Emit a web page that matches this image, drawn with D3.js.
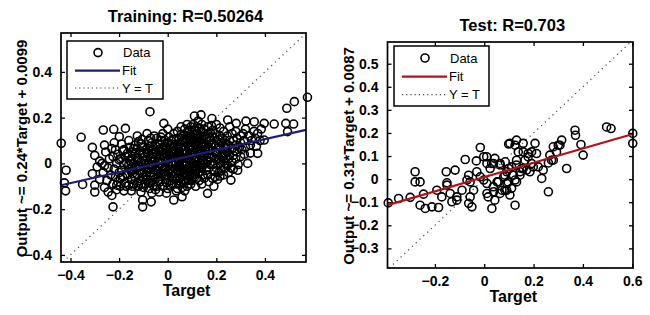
<!DOCTYPE html>
<html>
<head>
<meta charset="utf-8">
<script src="https://cdn.jsdelivr.net/npm/d3@7"></script>
<style>
  body { margin: 0; background: #fff; }
  svg { display: block; font-family: "Liberation Sans", Arial, sans-serif; }
</style>
</head>
<body>
<div id="chart"></div>
<script>
// ---- data: [target, output] ----
const trainTitle = "Training: R=0.50264";
const trainYLabel = "Output ~= 0.24*Target + 0.0099";
const trainFit = [0.24, 0.0099];
const trainXTicks = [-0.4, -0.2, 0, 0.2, 0.4];
const trainYTicks = [-0.4, -0.2, 0, 0.2, 0.4];
const trainPoints = [
  [-0.438, 0.088], [-0.418, -0.03], [-0.425, -0.085], [-0.42, -0.12], [-0.356, 0.114], [-0.35, -0.092],
  [-0.31, 0.07], [-0.30, 0.035], [-0.29, -0.015], [-0.31, -0.045], [-0.30, -0.095], [-0.30, -0.125], [-0.28, -0.07], [-0.28, 0.01],
  [-0.265, 0.146], [-0.26, 0.08], [-0.255, 0.05], [-0.26, -0.01], [-0.265, -0.04], [-0.25, -0.075], [-0.26, -0.105], [-0.245, -0.125], [-0.24, 0.02], [-0.235, -0.05],
  [-0.225, -0.19], [-0.222, 0.149], [-0.22, 0.09], [-0.215, 0.06], [-0.225, 0.03], [-0.21, 0.0], [-0.22, -0.025], [-0.215, -0.06], [-0.225, -0.09], [-0.21, -0.115], [-0.23, -0.14], [-0.205, 0.04], [-0.2, -0.04], [-0.205, -0.08],
  [-0.199, 0.117], [-0.19, 0.085], [-0.185, 0.055], [-0.195, 0.02], [-0.18, -0.005], [-0.19, -0.03], [-0.185, -0.06], [-0.195, -0.1], [-0.18, -0.12], [-0.175, 0.03], [-0.17, -0.045], [-0.175, -0.085], [-0.174, 0.153],
  [-0.16, 0.1], [-0.155, 0.07], [-0.165, 0.045], [-0.15, 0.02], [-0.16, -0.005], [-0.155, -0.025], [-0.165, -0.05], [-0.15, -0.07], [-0.16, -0.095], [-0.15, -0.12], [-0.145, -0.045], [-0.14, 0.0], [-0.145, 0.05], [-0.14, -0.09], [-0.135, 0.08],
  [-0.125, 0.12], [-0.12, 0.095], [-0.13, 0.06], [-0.115, 0.04], [-0.125, 0.015], [-0.12, -0.01], [-0.11, -0.03], [-0.125, -0.05], [-0.115, -0.075], [-0.12, -0.1], [-0.11, -0.125], [-0.103, -0.16], [-0.103, -0.19], [-0.105, 0.07], [-0.1, 0.0], [-0.1, -0.06], [-0.095, 0.03], [-0.095, -0.09], [-0.105, 0.105],
  [-0.073, 0.226], [-0.085, 0.13], [-0.08, 0.1], [-0.075, 0.075], [-0.085, 0.05], [-0.07, 0.025], [-0.08, 0.005], [-0.075, -0.02], [-0.085, -0.04], [-0.07, -0.06], [-0.08, -0.085], [-0.075, -0.11], [-0.068, -0.168], [-0.065, -0.13], [-0.065, 0.09], [-0.06, 0.04], [-0.06, -0.01], [-0.055, -0.05], [-0.06, -0.095], [-0.055, 0.12],
  [-0.045, 0.11], [-0.04, 0.085], [-0.035, 0.06], [-0.045, 0.035], [-0.04, 0.01], [-0.035, -0.015], [-0.045, -0.035], [-0.04, -0.06], [-0.03, -0.08], [-0.045, -0.1], [-0.035, -0.125], [-0.025, 0.1], [-0.025, 0.05], [-0.025, 0.0], [-0.02, -0.045], [-0.02, -0.1], [-0.016, 0.175], [-0.02, 0.13], [-0.015, 0.075], [-0.015, 0.025], [-0.01, -0.02], [-0.01, -0.07], [-0.005, -0.13],
  [0.0, 0.15], [0.005, 0.115], [0.0, 0.09], [0.005, 0.065], [-0.005, 0.04], [0.0, 0.015], [0.005, -0.01], [0.0, -0.035], [0.005, -0.06], [-0.005, -0.085], [0.0, -0.11], [0.015, 0.1], [0.015, 0.05], [0.02, 0.0], [0.015, -0.045], [0.02, -0.09], [0.025, -0.16], [0.025, 0.13], [0.025, 0.075], [0.03, 0.025], [0.03, -0.025], [0.03, -0.07], [0.035, -0.12],
  [0.04, 0.14], [0.045, 0.11], [0.04, 0.085], [0.045, 0.06], [0.04, 0.035], [0.045, 0.01], [0.04, -0.015], [0.045, -0.04], [0.04, -0.065], [0.045, -0.09], [0.04, -0.11], [0.059, -0.146], [0.055, 0.16], [0.055, 0.125], [0.06, 0.095], [0.055, 0.07], [0.06, 0.045], [0.055, 0.02], [0.06, -0.005], [0.055, -0.03], [0.06, -0.055], [0.055, -0.08], [0.06, -0.105], [0.07, 0.15], [0.07, 0.11], [0.07, 0.06], [0.07, 0.0], [0.075, -0.05], [0.07, -0.12],
  [0.08, 0.17], [0.085, 0.135], [0.08, 0.1], [0.085, 0.075], [0.08, 0.05], [0.085, 0.025], [0.08, 0.0], [0.085, -0.025], [0.08, -0.05], [0.085, -0.075], [0.08, -0.1], [0.095, 0.16], [0.095, 0.12], [0.1, 0.09], [0.095, 0.06], [0.1, 0.035], [0.095, 0.01], [0.1, -0.015], [0.095, -0.04], [0.1, -0.065], [0.095, -0.09], [0.11, 0.207], [0.11, 0.145], [0.11, 0.11], [0.115, 0.08], [0.11, 0.05], [0.115, 0.02], [0.11, -0.01], [0.115, -0.035], [0.11, -0.06], [0.115, -0.1],
  [0.125, 0.185], [0.13, 0.155], [0.125, 0.125], [0.13, 0.095], [0.125, 0.065], [0.13, 0.04], [0.125, 0.01], [0.13, -0.015], [0.125, -0.045], [0.13, -0.075], [0.137, 0.212], [0.14, 0.17], [0.145, 0.135], [0.14, 0.105], [0.145, 0.075], [0.14, 0.045], [0.145, 0.015], [0.14, -0.02], [0.145, -0.05], [0.14, -0.09], [0.15, 0.12], [0.155, 0.06], [0.155, 0.0], [0.15, -0.065],
  [0.164, -0.131], [0.165, 0.16], [0.165, 0.13], [0.17, 0.1], [0.165, 0.07], [0.17, 0.04], [0.165, 0.01], [0.17, -0.02], [0.165, -0.05], [0.17, -0.08], [0.182, 0.196], [0.185, 0.145], [0.185, 0.115], [0.19, 0.085], [0.185, 0.055], [0.19, 0.025], [0.185, -0.005], [0.19, -0.035], [0.185, -0.065], [0.19, -0.1], [0.2, 0.17], [0.2, 0.1], [0.205, 0.04], [0.2, -0.02], [0.205, -0.07],
  [0.215, 0.155], [0.215, 0.12], [0.22, 0.09], [0.215, 0.06], [0.22, 0.03], [0.215, 0.0], [0.22, -0.03], [0.215, -0.055], [0.23, 0.14], [0.235, 0.1], [0.23, 0.07], [0.235, 0.04], [0.23, 0.01], [0.235, -0.02], [0.23, -0.05], [0.247, 0.19], [0.245, 0.12], [0.25, 0.08], [0.245, 0.05], [0.25, 0.02], [0.245, -0.01], [0.25, -0.04], [0.26, -0.073], [0.255, 0.16],
  [0.265, 0.13], [0.27, 0.1], [0.265, 0.065], [0.27, 0.035], [0.265, 0.005], [0.27, -0.025], [0.282, 0.175], [0.28, 0.14], [0.285, 0.11], [0.28, 0.08], [0.285, 0.05], [0.28, 0.02], [0.288, -0.03], [0.29, -0.005], [0.3, 0.12], [0.3, 0.09], [0.305, 0.06], [0.3, 0.03],
  [0.322, 0.185], [0.32, 0.15], [0.315, 0.1], [0.32, 0.07], [0.315, 0.04], [0.329, 0.0], [0.335, 0.12], [0.34, 0.08], [0.34, 0.045], [0.356, 0.182], [0.355, 0.14], [0.36, 0.11], [0.37, 0.131], [0.37, 0.044], [0.365, 0.075], [0.38, 0.1], [0.397, 0.175], [0.397, 0.102],
  [0.438, 0.172], [0.486, 0.175], [0.518, 0.172], [0.49, 0.241], [0.521, 0.27], [0.575, 0.289], [0.493, 0.139],
  // denser core of the cloud
  [-0.27, 0.0], [-0.245, -0.02], [-0.23, 0.065], [-0.2, 0.015], [-0.21, -0.095], [-0.195, -0.065], [-0.18, 0.06], [-0.17, 0.005], [-0.17, -0.1], [-0.16, 0.03],
  [-0.15, -0.035], [-0.145, -0.1], [-0.14, 0.065], [-0.135, -0.06], [-0.13, 0.025], [-0.13, -0.02], [-0.125, -0.085], [-0.11, 0.085], [-0.11, 0.005], [-0.105, -0.045],
  [-0.1, -0.105], [-0.09, 0.06], [-0.09, 0.015], [-0.09, -0.025], [-0.088, -0.07], [-0.08, 0.04], [-0.07, 0.11], [-0.07, -0.04], [-0.065, 0.06], [-0.062, -0.075],
  [-0.055, 0.01], [-0.05, 0.075], [-0.05, -0.03], [-0.05, -0.115], [-0.03, 0.02], [-0.03, -0.045], [-0.03, 0.085], [-0.02, 0.06], [-0.015, -0.025], [-0.01, 0.1],
  [-0.01, 0.045], [-0.005, -0.05], [0.01, 0.08], [0.01, 0.03], [0.01, -0.025], [0.01, -0.075], [0.02, 0.055], [0.02, -0.055], [0.025, 0.105], [0.035, 0.05],
  [0.035, 0.0], [0.035, -0.045], [0.035, -0.09], [0.05, 0.085], [0.05, 0.035], [0.05, -0.015], [0.05, -0.065], [0.065, 0.125], [0.065, 0.075], [0.065, 0.025],
  [0.065, -0.025], [0.065, -0.08], [0.075, 0.09], [0.075, 0.04], [0.075, -0.01], [0.075, -0.075], [0.09, 0.145], [0.09, 0.11], [0.09, 0.04], [0.09, -0.01],
  [0.09, -0.06], [0.105, 0.17], [0.105, 0.125], [0.105, 0.07], [0.105, 0.0], [0.105, -0.05], [0.12, 0.16], [0.12, 0.11], [0.12, 0.06], [0.12, 0.025],
  [0.12, -0.025], [0.12, -0.065], [0.135, 0.14], [0.135, 0.08], [0.135, 0.0], [0.135, -0.035], [0.15, 0.15], [0.15, 0.09], [0.15, 0.035], [0.16, 0.11],
  [0.16, -0.03], [0.175, 0.135], [0.175, 0.06], [0.175, -0.005], [0.18, 0.165], [0.195, 0.13], [0.195, 0.05], [0.195, -0.06], [0.21, 0.075], [0.21, 0.015],
  [0.21, -0.04], [0.225, 0.11], [0.225, 0.045], [0.24, 0.085], [0.24, 0.025], [0.255, 0.1], [0.255, 0.035], [0.26, -0.02], [0.275, 0.055], [0.295, 0.07],
  [0.31, 0.13], [0.345, 0.1], [0.385, 0.15],
  [-0.155, 0.01], [-0.145, -0.015], [-0.135, 0.04], [-0.115, 0.055], [-0.115, -0.015], [-0.108, -0.09], [-0.098, 0.045], [-0.093, -0.005], [-0.088, -0.05], [-0.078, 0.055],
  [-0.078, -0.003], [-0.072, -0.085], [-0.067, 0.008], [-0.058, 0.025], [-0.052, -0.07], [-0.048, 0.05], [-0.042, -0.01], [-0.038, -0.075], [-0.033, 0.035], [-0.028, 0.115],
  [-0.022, -0.015], [-0.018, 0.04], [-0.012, -0.055], [-0.008, 0.065], [0.003, 0.002], [0.008, 0.04], [0.012, -0.095], [0.018, 0.085], [0.022, -0.035], [0.028, 0.045],
  [0.038, 0.07], [0.042, -0.03], [0.048, 0.045], [0.052, -0.045], [0.058, 0.11], [0.062, 0.005], [0.068, -0.045], [0.078, 0.02], [0.082, 0.12], [0.088, -0.035],
  [0.092, 0.075], [0.098, -0.075], [0.102, 0.045], [0.108, 0.1], [0.112, -0.025], [0.118, 0.085], [0.122, -0.005], [0.128, 0.05], [0.132, 0.115], [0.138, 0.025],
  [0.142, 0.09], [0.148, -0.005], [0.152, 0.055], [0.158, 0.085], [0.162, 0.015], [0.168, 0.055], [0.172, 0.115], [0.178, 0.025], [0.182, 0.085], [0.188, 0.0],
  [0.198, 0.075], [0.202, 0.02], [0.208, 0.105], [0.218, -0.01], [0.228, 0.03], [0.238, 0.065], [0.242, 0.0]
];

const testTitle = "Test: R=0.703";
const testYLabel = "Output ~= 0.31*Target + 0.0087";
const testFit = [0.31, 0.0087];
const testXTicks = [-0.2, 0, 0.2, 0.4, 0.6];
const testYTicks = [-0.3, -0.2, -0.1, 0, 0.1, 0.2, 0.3, 0.4, 0.5];
const testPoints = [
  [-0.389, -0.103], [-0.347, -0.084], [-0.3, -0.079], [-0.28, 0.032], [-0.28, -0.012], [-0.26, -0.012], [-0.246, -0.065],
  [-0.26, -0.113], [-0.239, -0.127], [-0.212, -0.12], [-0.185, -0.123], [-0.192, -0.048], [-0.172, -0.077], [-0.131, -0.098],
  [-0.111, -0.077], [-0.09, -0.048], [-0.151, -0.016], [-0.07, -0.004], [-0.154, 0.032], [-0.118, 0.039], [-0.077, 0.085],
  [-0.032, 0.079], [-0.016, 0.137], [-0.002, 0.097], [0.011, 0.068], [0.024, 0.046], [0.038, 0.068], [0.065, 0.061],
  [0.085, 0.075], [0.099, 0.152], [0.099, 0.046], [-0.03, 0.032], [-0.016, 0.01], [-0.063, 0.017], [-0.057, -0.012],
  [-0.002, -0.004], [0.011, -0.019], [0.052, -0.012], [0.079, 0.01], [0.092, -0.019], [0.072, -0.048], [0.038, -0.055],
  [0.011, -0.062], [-0.043, -0.048], [-0.057, -0.077], [-0.063, -0.105], [-0.05, -0.12], [0.031, -0.127], [-0.111, -0.091],
  [-0.138, -0.062], [-0.151, -0.026], [0.01, 0.097], [0.03, 0.068], [0.043, 0.09], [0.064, 0.068], [0.084, 0.017],
  [0.057, -0.012], [0.037, -0.033], [0.064, -0.062], [0.084, -0.048], [0.016, -0.077], [0.043, -0.091],
  [0.104, 0.155], [0.131, 0.169], [0.158, 0.155], [0.206, 0.155], [0.138, 0.118], [0.178, 0.111], [0.212, 0.111],
  [0.165, 0.082], [0.192, 0.068], [0.219, 0.053], [0.239, 0.039], [0.233, 0.003], [0.185, 0.032], [0.158, 0.046],
  [0.131, 0.061], [0.111, 0.053], [0.091, 0.032], [0.145, 0.032], [0.118, 0.017], [0.111, -0.04], [0.091, -0.048],
  [0.125, -0.004], [0.097, -0.012], [0.104, -0.069], [0.125, -0.113], [0.131, 0.082], [0.152, 0.046], [0.178, 0.097],
  [0.192, 0.118], [0.172, 0.039], [0.199, 0.053], [0.145, 0.017], [0.131, -0.012], [0.158, 0.118], [0.125, 0.147],
  [0.266, 0.104], [0.28, 0.082], [0.293, 0.118], [0.307, 0.147], [0.314, 0.169], [0.28, 0.14], [0.3, 0.147],
  [0.273, 0.082], [0.26, 0.07], [0.26, -0.055], [0.334, 0.046], [0.368, 0.212], [0.37, 0.19], [0.392, 0.15],
  [0.401, 0.104], [0.496, 0.226], [0.514, 0.219], [0.602, 0.198], [0.602, 0.155]
];

// ---- layout ----
const width = 650, height = 315;
const markerR = 4, markerStroke = 1.6;
const panels = [
  { title: trainTitle, yLabel: trainYLabel, points: trainPoints, fit: trainFit, fitColor: "#1e1e78",
    xTicks: trainXTicks, yTicks: trainYTicks, xDomain: [-0.439, 0.569], yDomain: [-0.431, 0.57],
    left: 61, top: 33, w: 245, h: 229, legend: { x: 67, y: 41, w: 96, h: 58 } },
  { title: testTitle, yLabel: testYLabel, points: testPoints, fit: testFit, fitColor: "#b3121c",
    xTicks: testXTicks, yTicks: testYTicks, xDomain: [-0.392, 0.603], yDomain: [-0.385, 0.594],
    left: 387.5, top: 42, w: 245.5, h: 226, legend: { x: 394, y: 46, w: 95, h: 60 } }
];

const fmt = (v) => v === 0 ? "0" : d3.format(".1f")(v);

const svg = d3.select("#chart")
    .append("svg")
    .attr("width", width)
    .attr("height", height);

const drawPanel = (p) => {
    const xScale = d3.scaleLinear().domain(p.xDomain).range([p.left, p.left + p.w]);
    const yScale = d3.scaleLinear().domain(p.yDomain).range([p.top + p.h, p.top]);
    const g = svg.append("g");
    const right = p.left + p.w, bottom = p.top + p.h;

    // Y = T dotted line
    const lo = Math.max(p.xDomain[0], p.yDomain[0]), hi = Math.min(p.xDomain[1], p.yDomain[1]);
    g.append("line")
        .attr("x1", xScale(lo)).attr("y1", yScale(lo))
        .attr("x2", xScale(hi)).attr("y2", yScale(hi))
        .attr("stroke", "#444")
        .attr("stroke-width", 1.2)
        .attr("stroke-dasharray", "1.2,4");

    // data circles
    g.selectAll("circle.pt")
        .data(p.points)
        .enter().append("circle")
        .attr("class", "pt")
        .attr("cx", (d) => xScale(d[0]))
        .attr("cy", (d) => yScale(d[1]))
        .attr("r", markerR)
        .attr("fill", "none")
        .attr("stroke", "#000")
        .attr("stroke-width", markerStroke);

    // fit line
    const fitY = (x) => p.fit[0] * x + p.fit[1];
    g.append("line")
        .attr("x1", xScale(p.xDomain[0])).attr("y1", yScale(fitY(p.xDomain[0])))
        .attr("x2", xScale(p.xDomain[1])).attr("y2", yScale(fitY(p.xDomain[1])))
        .attr("stroke", p.fitColor)
        .attr("stroke-width", 2.2);

    // axes (MATLAB style: inward ticks on all sides)
    const tick = 4;
    g.append("g")
        .attr("transform", "translate(0," + bottom + ")")
        .call(d3.axisBottom(xScale).tickValues(p.xTicks).tickFormat(fmt).tickSizeInner(-tick).tickSizeOuter(0).tickPadding(8));
    g.append("g")
        .attr("transform", "translate(0," + p.top + ")")
        .call(d3.axisTop(xScale).tickValues(p.xTicks).tickFormat("").tickSizeInner(-tick).tickSizeOuter(0));
    g.append("g")
        .attr("transform", "translate(" + p.left + ",0)")
        .call(d3.axisLeft(yScale).tickValues(p.yTicks).tickFormat(fmt).tickSizeInner(-tick).tickSizeOuter(0).tickPadding(9));
    g.append("g")
        .attr("transform", "translate(" + right + ",0)")
        .call(d3.axisRight(yScale).tickValues(p.yTicks).tickFormat("").tickSizeInner(-tick).tickSizeOuter(0));
    g.selectAll(".domain").remove();
    g.selectAll(".tick line").attr("stroke", "#000").attr("stroke-width", 1.3);
    g.selectAll(".tick text")
        .attr("fill", "#000")
        .attr("font-size", 14)
        .attr("font-weight", "bold")
        .attr("font-family", "Liberation Sans, Arial, sans-serif");

    // frame
    g.append("rect")
        .attr("x", p.left).attr("y", p.top)
        .attr("width", p.w).attr("height", p.h)
        .attr("fill", "none")
        .attr("stroke", "#000")
        .attr("stroke-width", 1.7);

    // titles and labels
    g.append("text")
        .attr("x", p.left + p.w / 2 + 2)
        .attr("y", p.top - 11)
        .attr("text-anchor", "middle")
        .attr("font-size", 16.5)
        .attr("font-weight", "bold")
        .text(p.title);
    g.append("text")
        .attr("x", p.left + p.w / 2 + 3)
        .attr("y", bottom + 34)
        .attr("text-anchor", "middle")
        .attr("font-size", 16)
        .attr("font-weight", "bold")
        .text("Target");
    g.append("text")
        .attr("transform", "translate(" + (p.left - 34) + "," + (p.top + p.h / 2 + 1) + ") rotate(-90)")
        .attr("text-anchor", "middle")
        .attr("font-size", 15)
        .attr("font-weight", "bold")
        .text(p.yLabel);

    // legend
    const L = p.legend;
    const lg = g.append("g").attr("transform", "translate(" + L.x + "," + L.y + ")");
    lg.append("rect")
        .attr("width", L.w).attr("height", L.h)
        .attr("fill", "#fff")
        .attr("stroke", "#000")
        .attr("stroke-width", 1.5);
    const rows = [L.h * 0.2, L.h * 0.51, L.h * 0.81];
    lg.append("circle")
        .attr("cx", 31).attr("cy", rows[0])
        .attr("r", markerR)
        .attr("fill", "none").attr("stroke", "#000").attr("stroke-width", markerStroke);
    lg.append("line")
        .attr("x1", 8).attr("x2", 53).attr("y1", rows[1]).attr("y2", rows[1])
        .attr("stroke", p.fitColor).attr("stroke-width", 2.2);
    lg.append("line")
        .attr("x1", 8).attr("x2", 53).attr("y1", rows[2]).attr("y2", rows[2])
        .attr("stroke", "#444").attr("stroke-width", 1.2).attr("stroke-dasharray", "1.2,3");
    lg.selectAll("text.lab")
        .data(["Data", "Fit", "Y = T"])
        .enter().append("text")
        .attr("class", "lab")
        .attr("x", (d, i) => i === 0 ? 56 : 55)
        .attr("y", (d, i) => rows[i])
        .attr("dy", "0.35em")
        .attr("font-size", 13)
        .text((d) => d);
};

panels.forEach(drawPanel);
</script>
</body>
</html>
